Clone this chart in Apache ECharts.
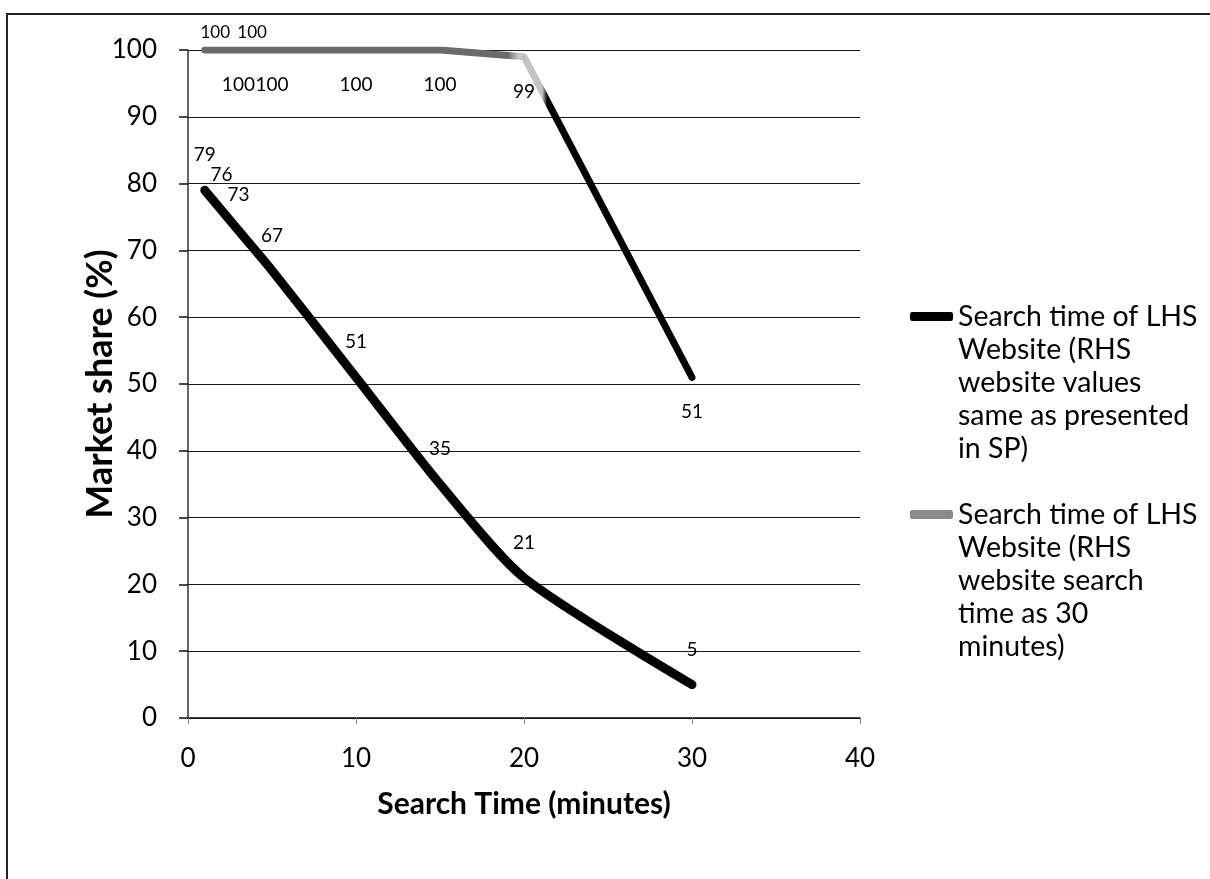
<!DOCTYPE html>
<html>
<head>
<meta charset="utf-8">
<script src="https://cdn.jsdelivr.net/npm/echarts@6/dist/echarts.min.js"></script>
<style>
  html, body { margin: 0; padding: 0; background: #fff; }
  #chart { width: 1210px; height: 879px; }
</style>
</head>
<body>
<div id="chart"></div>
<script>
// ---- data ----
const searchTimes = [1, 2, 3, 5, 10, 15, 20, 30];
const shareValuesSP = [79, 76, 73, 67, 51, 35, 21, 5];
const shareSearch30 = [100, 100, 100, 100, 100, 100, 99, 51];
const xTicks = [0, 10, 20, 30, 40];
const yTicks = [0, 10, 20, 30, 40, 50, 60, 70, 80, 90, 100];
const seriesNames = [
  'Search time of LHS Website (RHS website values same as presented in SP)',
  'Search time of LHS Website (RHS website search time as 30 minutes)'
];
const legendLines = [
  ['Search time of LHS', 'Website (RHS', 'website values', 'same as presented', 'in SP)'],
  ['Search time of LHS', 'Website (RHS', 'website search', 'time as 30', 'minutes)']
];

const FONT = 'Lato';
const chart = echarts.init(document.getElementById('chart'));

const data1 = searchTimes.map((x, i) => [x, shareValuesSP[i]]);
const topLabelPos = { 0: [11, -17], 1: [31, -17] };
const data2 = searchTimes.map((x, i) => {
  const d = { value: [x, shareSearch30[i]] };
  if (topLabelPos[i]) {
    d.label = { position: topLabelPos[i], align: 'center', verticalAlign: 'middle', fontSize: 17 };
  }
  return d;
});

const option = {
  backgroundColor: '#fff',
  animation: false,
  graphic: [{
    type: 'rect',
    shape: { x: 7, y: 14, width: 1300, height: 1000 },
    style: { fill: 'none', stroke: '#222', lineWidth: 2 },
    silent: true
  }],
  grid: { left: 188, top: 50, width: 672, height: 668, containLabel: false },
  legend: {
    orient: 'vertical',
    left: 910,
    top: 168,
    padding: 0,
    itemGap: -99,
    itemWidth: 43,
    itemHeight: 9,
    icon: 'roundRect',
    selectedMode: false,
    data: [
      { name: seriesNames[0], itemStyle: { color: '#000' } },
      { name: seriesNames[1], itemStyle: { color: '#8a8a8a' } }
    ],
    formatter: function (name) {
      const idx = seriesNames.indexOf(name);
      return '\n\n\n\n' + legendLines[idx].join('\n');
    },
    textStyle: { fontFamily: FONT, fontSize: 28.5, lineHeight: 33, color: '#000' }
  },
  xAxis: {
    type: 'value',
    min: xTicks[0],
    max: xTicks[xTicks.length - 1],
    interval: 10,
    name: 'Search Time (minutes)',
    nameLocation: 'middle',
    nameGap: 71,
    nameMoveOverlap: false,
    nameTextStyle: { fontFamily: FONT, fontSize: 30, fontWeight: 'bold', color: '#000' },
    axisLine: { show: true, lineStyle: { color: '#111', width: 1.5 } },
    axisTick: { show: true, length: 6, lineStyle: { color: '#777' } },
    axisLabel: { fontFamily: FONT, fontSize: 26, color: '#000', margin: 28 },
    splitLine: { show: false }
  },
  yAxis: {
    type: 'value',
    min: yTicks[0],
    max: yTicks[yTicks.length - 1],
    interval: 10,
    name: 'Market share (%)',
    nameLocation: 'middle',
    nameGap: 70,
    nameMoveOverlap: false,
    nameRotate: 90,
    nameTextStyle: { fontFamily: FONT, fontSize: 36, fontWeight: 'bold', color: '#000' },
    axisLine: { show: true, lineStyle: { color: '#333', width: 1.5 } },
    axisTick: { show: true, length: 9, lineStyle: { color: '#111', width: 1.5 } },
    axisLabel: { fontFamily: FONT, fontSize: 26, color: '#000', margin: 31 },
    splitLine: { show: true, lineStyle: { color: '#1a1a1a', width: 1.2 } }
  },
  series: [
    {
      name: seriesNames[0],
      type: 'line',
      data: data1,
      smooth: 0.25,
      showSymbol: true,
      symbol: 'circle',
      symbolSize: 1,
      lineStyle: { color: '#000', width: 9, cap: 'round' },
      itemStyle: { color: '#000' },
      label: {
        show: true, position: 'top', distance: 25,
        fontFamily: FONT, fontSize: 19, color: '#000',
        formatter: p => p.value[1]
      },
      z: 3
    },
    {
      name: seriesNames[1],
      type: 'line',
      data: data2,
      smooth: false,
      showSymbol: true,
      symbol: 'circle',
      symbolSize: 1,
      lineStyle: {
        width: 7, cap: 'round',
        color: new echarts.graphic.LinearGradient(0, 0, 1, 0, [
          { offset: 0, color: '#6a6a6a' },
          { offset: 0.62, color: '#6a6a6a' },
          { offset: 0.64, color: '#c4c4c4' },
          { offset: 0.69, color: '#c4c4c4' },
          { offset: 0.70, color: '#000' },
          { offset: 1, color: '#000' }
        ])
      },
      itemStyle: { color: '#6a6a6a' },
      label: {
        show: true, position: 'bottom', distance: 25,
        fontFamily: FONT, fontSize: 19, color: '#000',
        formatter: p => p.value[1]
      },
      z: 2
    }
  ]
};
chart.setOption(option);
</script>
</body>
</html>
